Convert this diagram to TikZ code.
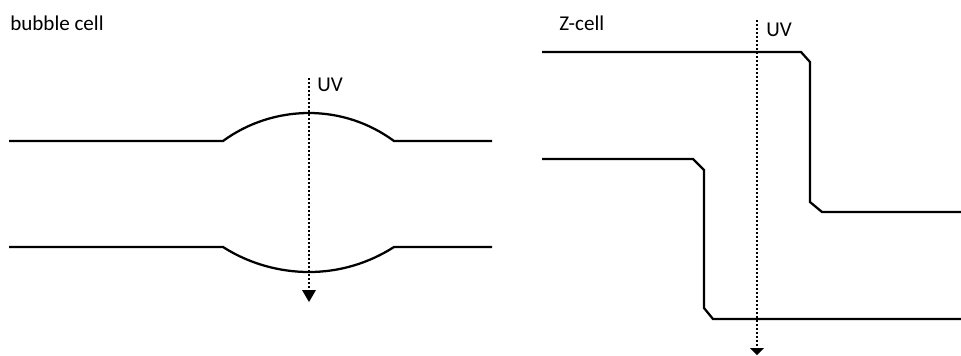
\documentclass[tikz,border=0pt]{standalone}
\usepackage{fontspec}
\setmainfont{Carlito}
\usetikzlibrary{arrows.meta}
\tikzset{
  wall/.style={line width=1.7pt,black,line join=miter},
  uvray/.style={line width=1.2pt,black,dash pattern=on 1.6pt off 1.4pt},
  uvhead/.style={fill=black,draw=none},
  lbl/.style={inner sep=0pt,anchor=base west,font=\fontsize{15.8pt}{18pt}\selectfont,text=black}
}
\begin{document}
\begin{tikzpicture}[x=0.75pt,y=-0.75pt]
\useasboundingbox (0,0) rectangle (961,355);
% labels
\node[lbl] (bubblelabel) at (10,30) {bubble cell};
\node[lbl] (zlabel) at (559,30) {Z-cell};
\node[lbl] (uvleft) at (317,91) {UV};
\node[lbl] (uvright) at (766,36) {UV};
% bubble cell walls
\coordinate (ba) at (9,141);
\coordinate (bb) at (223,141);
\coordinate (bc) at (309,113);
\coordinate (bd) at (394,141);
\coordinate (be) at (492,141);
\draw[wall] (ba) -- (bb) .. controls (247.8,122.8) and (278.2,113) .. (bc) .. controls (339.8,113) and (369.2,122.8) .. (bd) -- (be);
\coordinate (ca) at (9,247);
\coordinate (cb) at (223,247);
\coordinate (cc) at (309,272);
\coordinate (cd) at (394,247);
\coordinate (ce) at (492,247);
\draw[wall] (ca) -- (cb) .. controls (248.5,263.3) and (278.7,272) .. (cc) .. controls (339.3,272) and (368.5,263.3) .. (cd) -- (ce);
% Z-cell walls
\coordinate (za) at (542,52);
\coordinate (zb) at (801,52);
\coordinate (zc) at (810,62);
\coordinate (zd) at (810,202);
\coordinate (ze) at (822,212);
\coordinate (zf) at (961,212);
\draw[wall] (za) -- (zb) -- (zc) -- (zd) -- (ze) -- (zf);
\coordinate (ya) at (542,159);
\coordinate (yb) at (693,159);
\coordinate (yc) at (704,170);
\coordinate (yd) at (704,308);
\coordinate (ye) at (713,319);
\coordinate (yf) at (961,319);
\draw[wall] (ya) -- (yb) -- (yc) -- (yd) -- (ye) -- (yf);
% UV rays
\coordinate (ula) at (309,78);
\coordinate (ulb) at (309,290);
\coordinate (ulh) at (309,302);
\draw[uvray] (ula) -- (ulb);
\fill[uvhead] (302,290) -- (316,290) -- (ulh) -- cycle;
\coordinate (ura) at (757,20);
\coordinate (urb) at (757,348);
\coordinate (urh) at (757,355);
\draw[uvray] (ura) -- (urb);
\fill[uvhead] (750,348) -- (764,348) -- (urh) -- cycle;
\end{tikzpicture}
\end{document}
